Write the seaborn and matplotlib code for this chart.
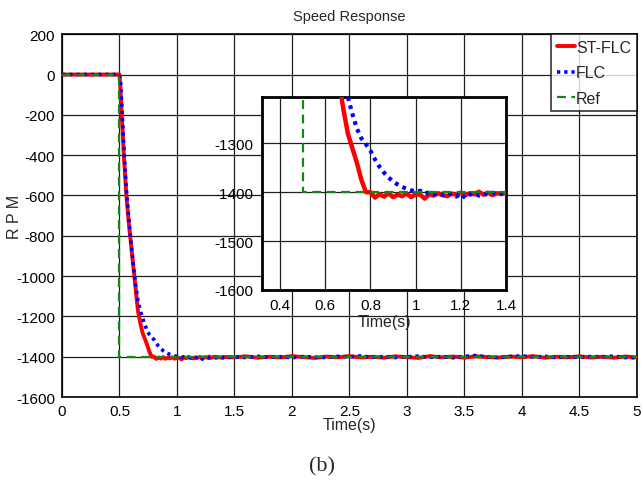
import numpy as np
import pandas as pd
import matplotlib
matplotlib.use("Agg")
import matplotlib.pyplot as plt
import seaborn as sns

# ---------------- data ----------------
t_tr = [0.0, 0.5, 0.51, 0.52, 0.54, 0.56, 0.58, 0.60, 0.62, 0.64, 0.66, 0.68, 0.70,
        0.72, 0.74, 0.76, 0.78]
st_tr = [0, 0, -80, -200, -420, -600, -730, -840, -950, -1060, -1170, -1230, -1280,
         -1310, -1340, -1375, -1400]
flc_tr = [0, 0, -40, -150, -380, -570, -710, -830, -940, -1040, -1120, -1170, -1205,
          -1240, -1270, -1290, -1302]

t_mid = [0.80, 0.82, 0.84, 0.86, 0.88, 0.90, 0.92, 0.94, 0.96, 0.98, 1.00, 1.02, 1.04,
         1.06, 1.08, 1.10, 1.12, 1.14, 1.16, 1.18, 1.20, 1.22, 1.24, 1.26, 1.28, 1.30,
         1.32, 1.34, 1.36, 1.38, 1.40]
st_mid = [-1400, -1411, -1404, -1409, -1402, -1410, -1405, -1408, -1403, -1410, -1404,
          -1405, -1413, -1404, -1407, -1402, -1406, -1408, -1403, -1405, -1401, -1406,
          -1402, -1404, -1399, -1405, -1401, -1406, -1402, -1404, -1401]
flc_mid = [-1315, -1333, -1348, -1360, -1370, -1378, -1384, -1389, -1393, -1396, -1399,
           -1397, -1403, -1400, -1405, -1402, -1406, -1401, -1404, -1409, -1403, -1412,
           -1405, -1402, -1407, -1403, -1405, -1401, -1404, -1402, -1406]

t_ss = [1.5, 1.6, 1.7, 1.8, 1.9, 2.0, 2.1, 2.2, 2.3, 2.4, 2.5, 2.6, 2.7, 2.8, 2.9, 3.0,
        3.1, 3.2, 3.3, 3.4, 3.5, 3.6, 3.7, 3.8, 3.9, 4.0, 4.1, 4.2, 4.3, 4.4, 4.5, 4.6,
        4.7, 4.8, 4.9, 5.0]
st_ss = [-1403, -1398, -1405, -1400, -1404, -1397, -1402, -1406, -1399, -1403, -1397,
         -1404, -1400, -1405, -1398, -1402, -1406, -1397, -1403, -1399, -1405, -1398,
         -1402, -1404, -1399, -1403, -1397, -1405, -1400, -1403, -1398, -1404, -1400,
         -1405, -1399, -1403]
flc_ss = [-1401, -1404, -1398, -1403, -1400, -1405, -1399, -1402, -1404, -1398, -1401,
          -1396, -1403, -1399, -1404, -1400, -1397, -1403, -1399, -1405, -1398, -1394,
          -1401, -1404, -1399, -1396, -1402, -1398, -1405, -1400, -1403, -1399, -1401,
          -1397, -1404, -1406]

t_ref = [0.0, 0.5, 0.5, 5.0]
ref_v = [0, 0, -1400, -1400]

t_all = t_tr + t_mid + t_ss
st_all = st_tr + st_mid + st_ss
flc_all = flc_tr + flc_mid + flc_ss

df_st = pd.DataFrame({"t": t_all, "v": st_all})
df_flc = pd.DataFrame({"t": t_all, "v": flc_all})
df_ref = pd.DataFrame({"t": t_ref, "v": ref_v})

main_xticks = [0, 0.5, 1, 1.5, 2, 2.5, 3, 3.5, 4, 4.5, 5]
main_xlabels = ["0", "0.5", "1", "1.5", "2", "2.5", "3", "3.5", "4", "4.5", "5"]
main_yticks = list(range(-1600, 201, 200))
inset_xticks = [0.4, 0.6, 0.8, 1.0, 1.2, 1.4]
inset_xlabels = ["0.4", "0.6", "0.8", "1", "1.2", "1.4"]
inset_yticks = [-1600, -1500, -1400, -1300]

# ---------------- style ----------------
sns.set_style("white")
plt.rcParams["font.family"] = ["Liberation Sans", "DejaVu Sans"]
plt.rcParams["axes.unicode_minus"] = False

fig = plt.figure(figsize=(6.43, 4.89), dpi=100)
ax = fig.add_axes([0.0964, 0.186, 0.894, 0.742])

def draw(a, lw_scale=1.0):
    sns.lineplot(data=df_st, x="t", y="v", ax=a, color="#ff0000", lw=2.8 * lw_scale,
                 label="ST-FLC", estimator=None, sort=False, zorder=3)
    sns.lineplot(data=df_flc, x="t", y="v", ax=a, color="#0000ff", lw=2.6 * lw_scale,
                 linestyle=(0, (0.9, 1.1)), label="FLC", estimator=None, sort=False,
                 zorder=4)
    sns.lineplot(data=df_ref, x="t", y="v", ax=a, color="#118811", lw=1.6,
                 linestyle=(0, (4, 2.5)), label="Ref", estimator=None, sort=False,
                 zorder=5)

draw(ax)
ax.set_xlim(0, 5)
ax.set_ylim(-1600, 200)
ax.set_xticks(main_xticks)
ax.set_xticklabels(main_xlabels)
ax.set_yticks(main_yticks)
ax.grid(True, color="#202020", lw=0.9)
ax.tick_params(direction="in", labelsize=11, length=3, colors="black", pad=5)
for s in ax.spines.values():
    s.set_color("black")
    s.set_linewidth(1.2)
ax.set_xlabel("Time(s)", fontsize=11.5, labelpad=-1)
ax.set_ylabel("R P M", fontsize=11.5)
ax.yaxis.set_label_coords(-0.07, 0.5)
ax.set_title("Speed Response", fontsize=10.5, pad=10)
leg = ax.legend(loc="upper right", fontsize=11.5, frameon=True, fancybox=False,
                borderaxespad=0, handlelength=1.1, handletextpad=0.1,
                borderpad=0.35, labelspacing=0.65)
leg.get_frame().set_edgecolor("black")
leg.get_frame().set_linewidth(1.2)

# inset
ax2 = fig.add_axes([0.4075, 0.405, 0.3795, 0.3947])
ax2.set_facecolor("white")
draw(ax2, 1.15)
ax2.set_xlim(0.32, 1.4)
ax2.set_ylim(-1600, -1205)
ax2.set_xticks(inset_xticks)
ax2.set_xticklabels(inset_xlabels)
ax2.set_yticks(inset_yticks)
ax2.grid(True, color="#202020", lw=0.9)
ax2.tick_params(direction="in", labelsize=11, length=3, colors="black", pad=6)
for s in ax2.spines.values():
    s.set_color("black")
    s.set_linewidth(2.0)
ax2.set_xlabel("Time(s)", fontsize=11.5, labelpad=1)
ax2.set_ylabel("")
ax2.get_legend().remove()

fig.text(0.5, 0.045, "(b)", ha="center", va="center", fontsize=16,
         family=["Liberation Serif", "DejaVu Serif"])

fig.savefig("out.png", dpi=100)
